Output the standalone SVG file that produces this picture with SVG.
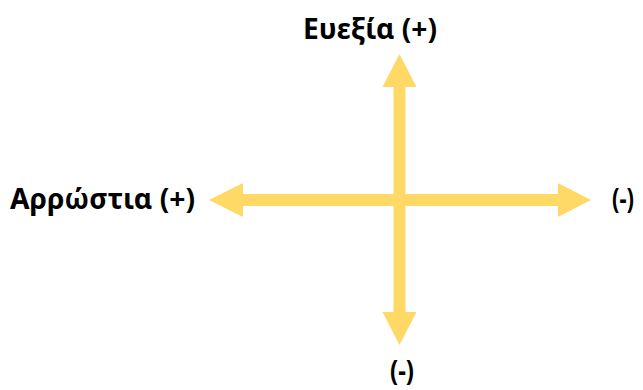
<svg xmlns="http://www.w3.org/2000/svg" width="643" height="390" viewBox="0 0 643 390">
  <style>
    .lbl { font-family: "Noto Sans", "Open Sans", "DejaVu Sans", sans-serif; font-weight: bold; font-size: 28px; fill: #000000; }
    .arrow { fill: #FFD966; stroke: none; }
  </style>
  <rect width="643" height="390" fill="#FFFFFF"/>
  <g id="connectors">
    <polygon class="arrow" points="209,200 243,183 243,194 558,194 558,183 591,200 558,217 558,206 243,206 243,217"/>
    <polygon class="arrow" points="399.5,54 416.5,87 405.5,87 405.5,312 416.5,312 399.5,345 382.5,312 393.5,312 393.5,87 382.5,87"/>
  </g>
  <g id="node-top">
    <text class="lbl" x="303" y="39" textLength="134" lengthAdjust="spacingAndGlyphs">Ευεξία (+)</text>
  </g>
  <g id="node-left">
    <text class="lbl" x="10" y="209" textLength="185" lengthAdjust="spacingAndGlyphs">Αρρώστια (+)</text>
  </g>
  <g id="node-right">
    <text class="lbl" x="612" y="209" textLength="22" lengthAdjust="spacingAndGlyphs">(-)</text>
  </g>
  <g id="node-bottom">
    <text class="lbl" x="390" y="381" textLength="24" lengthAdjust="spacingAndGlyphs">(-)</text>
  </g>
</svg>
